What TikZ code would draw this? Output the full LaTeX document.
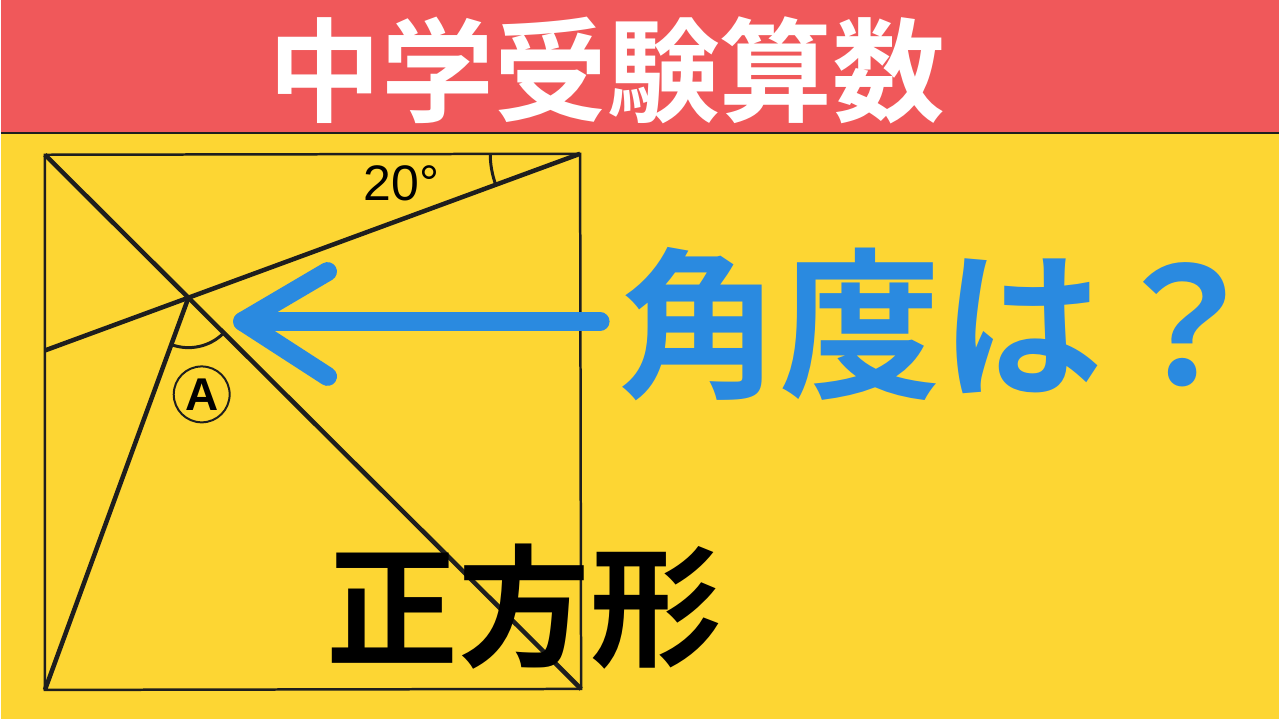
\documentclass[tikz,border=0pt]{standalone}
\usepackage{fontspec}
\setmainfont{Liberation Sans}
\newfontfamily\cjk{Noto Sans CJK JP}[BoldFont={Noto Sans CJK JP Bold}]
\usetikzlibrary{calc}
\definecolor{banner}{RGB}{240,88,90}
\definecolor{board}{RGB}{253,214,51}
\definecolor{arrowblue}{RGB}{42,138,224}
\definecolor{ink}{RGB}{30,30,30}
\tikzset{
	edge/.style={ink,line width=2.5pt},
	cut/.style={ink,line width=4.5pt},
	anglemark/.style={ink,line width=3pt},
	bigtext/.style={inner sep=0pt,font=\cjk\bfseries\fontsize{#1}{#1}\selectfont},
	pointer/.style={arrowblue,line width=19pt,line cap=round,line join=round}
}
\begin{document}
\begin{tikzpicture}[x=1pt,y=-1pt]
	\fill[board] (0,0) rectangle (1280,720);
	\fill[banner] (0,0) rectangle (1280,132);
	\draw[ink,line width=2pt] (0,133) -- (1280,133);
	\node[bigtext=113,text=white] (title) at (607,70) {中学受験算数};
	% square and cuts
	\coordinate (tl) at (44,155);
	\coordinate (tr) at (580,154);
	\coordinate (br) at (581,690);
	\coordinate (bl) at (44,691);
	\coordinate (lft) at (44,351);
	\draw[edge] (tl) -- (tr) -- (br) -- (bl) -- cycle;
	\draw[cut] (tl) -- (br);
	\draw[cut] (lft) -- (tr);
	\coordinate (p) at (intersection of tl--br and lft--tr);
	\draw[cut] (bl) -- (p);
	% angle marks
	\draw[anglemark] (tr) ++(180:90) arc (180:160:90);
	\draw[anglemark] (p) ++(45:50) arc (45:110:50);
	\node[font=\fontsize{50}{50}\selectfont] (deg) at (401,184) {20°};
	\node[draw=ink,line width=2pt,circle,minimum size=56pt,inner sep=0pt,
		font=\bfseries\fontsize{46}{46}\selectfont] (anga) at (201,395) {A};
	% arrow
	\coordinate (tail) at (600,322);
	\coordinate (tip) at (242,322);
	\coordinate (up) at (327,272);
	\coordinate (dn) at (327,377);
	\draw[pointer] (tail) -- (tip);
	\draw[pointer] (up) -- (tip) -- (dn);
	\node[bigtext=162,text=arrowblue] (ask) at (942,325) {角度は？};
	\node[bigtext=132] (sq) at (524,608) {正方形};
\end{tikzpicture}
\end{document}
